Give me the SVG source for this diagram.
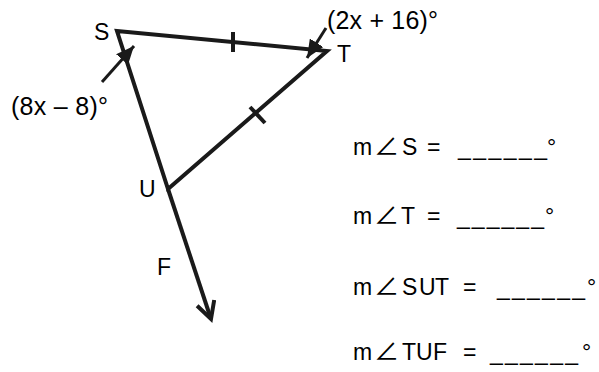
<svg xmlns="http://www.w3.org/2000/svg" width="599" height="372" viewBox="0 0 599 372">
<style>
.t{font-family:"Liberation Sans",Arial,sans-serif;fill:#000}
.lbl{font-size:23px}
.exp{font-size:25px}
.q{font-size:23px}
.ang{font-family:"Noto Sans CJK SC","DejaVu Sans",sans-serif;font-size:25px}
.ln{stroke:#1a1a1a;stroke-width:4;fill:none;stroke-linejoin:miter}
.ar{stroke:#1a1a1a;stroke-width:3;fill:none}
</style>
<defs>
<marker id="fill" markerUnits="userSpaceOnUse" markerWidth="20" markerHeight="16" refX="18" refY="8" orient="auto">
<path d="M0,0 L18,8 L0,16 z" fill="#1a1a1a"/>
</marker>
<marker id="open" markerUnits="userSpaceOnUse" markerWidth="24" markerHeight="24" refX="19" refY="11" orient="auto">
<path d="M2,2 L19,11 L2,20" fill="none" stroke="#1a1a1a" stroke-width="4"/>
</marker>
</defs>
<g id="connectors">
<polygon class="ln" points="117,31 327,51 168,189"/>
<line class="ln" x1="168" y1="189" x2="211" y2="319" marker-end="url(#open)"/>
<line class="ln" x1="233" y1="32" x2="233" y2="52" stroke-width="3"/>
<line class="ln" x1="250" y1="107" x2="265" y2="123" stroke-width="3"/>
<line class="ar" x1="102" y1="82" x2="134" y2="46" marker-end="url(#fill)"/>
<line class="ar" x1="326" y1="28" x2="307" y2="58" marker-end="url(#fill)"/>
</g>
<g id="S"><text class="t lbl" x="94" y="40">S</text></g>
<g id="T"><text class="t lbl" x="337" y="62">T</text></g>
<g id="U"><text class="t lbl" x="139" y="197">U</text></g>
<g id="F"><text class="t lbl" x="157" y="275">F</text></g>
<g id="angleS"><text class="t exp" x="11" y="115" textLength="97">(8x – 8)°</text></g>
<g id="angleT"><text class="t exp" x="327" y="29" textLength="111">(2x + 16)°</text></g>
<g id="questions">
<text class="t q" y="155"><tspan x="353">m</tspan><tspan class="ang" x="374">∠</tspan><tspan x="402">S</tspan><tspan x="427">=</tspan></text>
<text class="t q" x="458" y="155" textLength="89">______</text>
<text class="t q" x="547" y="155">°</text>
<text class="t q" y="224"><tspan x="353">m</tspan><tspan class="ang" x="374">∠</tspan><tspan x="401">T</tspan><tspan x="427">=</tspan></text>
<text class="t q" x="457" y="224" textLength="87">______</text>
<text class="t q" x="545" y="224">°</text>
<text class="t q" y="295"><tspan x="353">m</tspan><tspan class="ang" x="374">∠</tspan><tspan x="402">S</tspan><tspan x="419">U</tspan><tspan x="435">T</tspan><tspan x="463">=</tspan></text>
<text class="t q" x="497" y="295" textLength="88">______</text>
<text class="t q" x="587" y="295">°</text>
<text class="t q" y="360"><tspan x="353">m</tspan><tspan class="ang" x="374">∠</tspan><tspan x="402">T</tspan><tspan x="416">U</tspan><tspan x="433">F</tspan><tspan x="463">=</tspan></text>
<text class="t q" x="490" y="360" textLength="88">______</text>
<text class="t q" x="582" y="360">°</text>
</g>
</svg>
